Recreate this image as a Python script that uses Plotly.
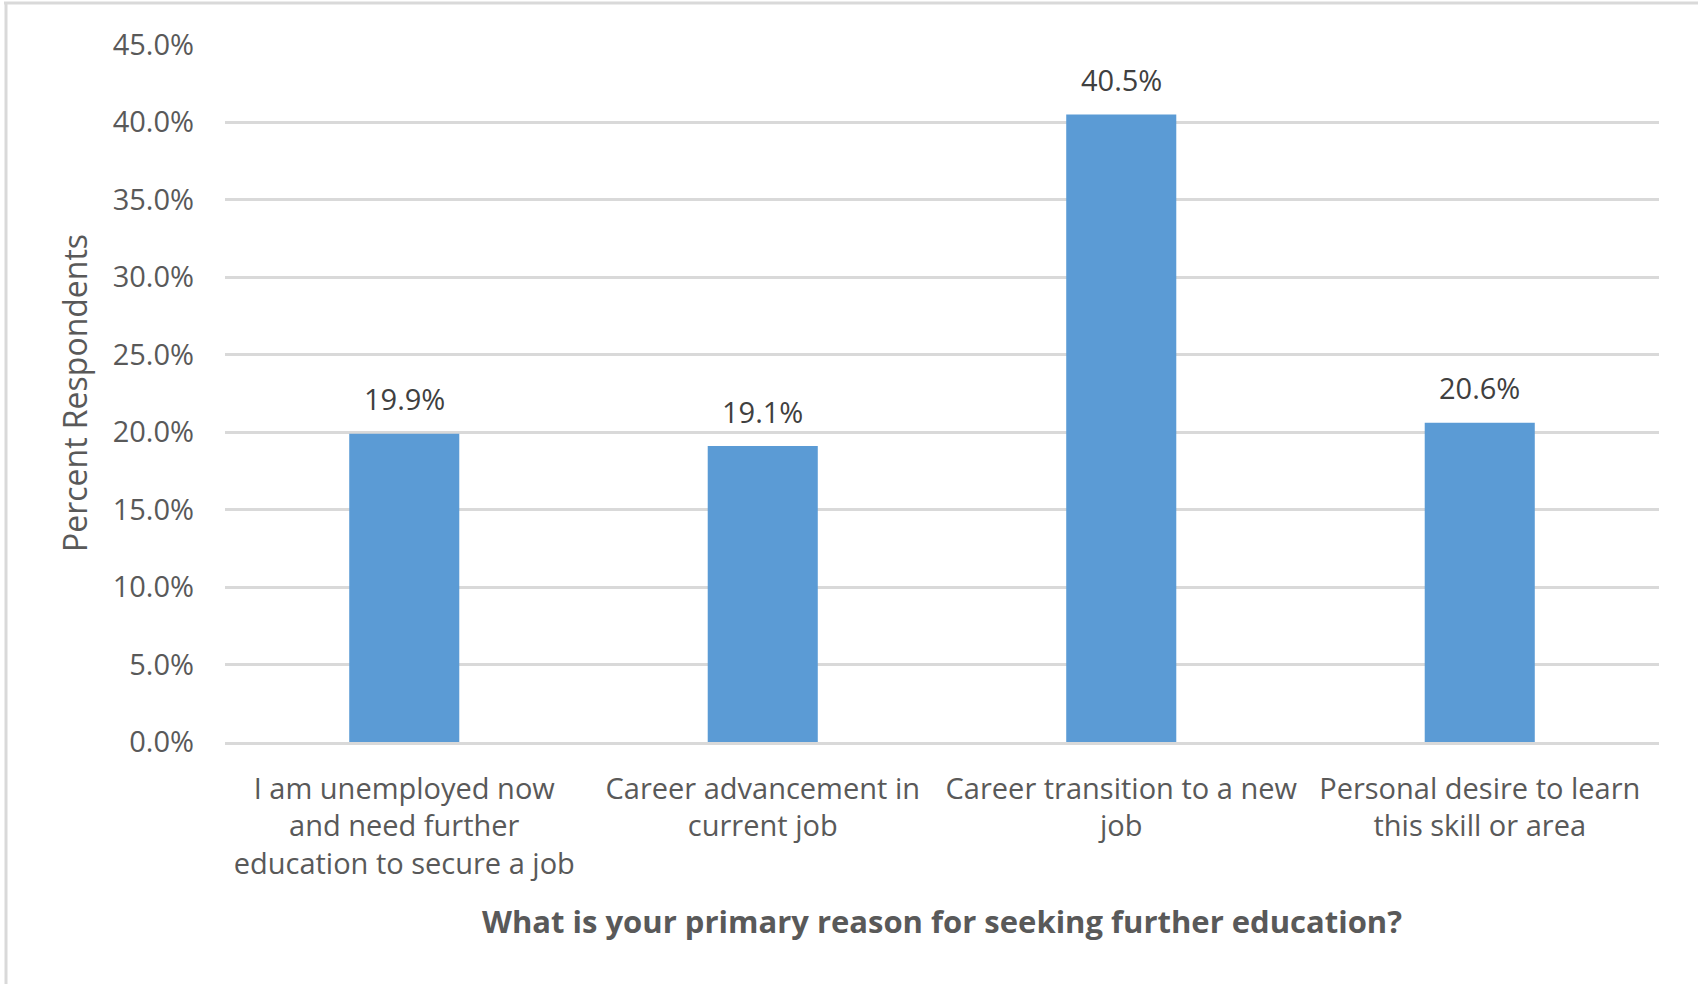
import plotly.graph_objects as go

categories = [
    "I am unemployed now<br>and need further<br>education to secure a job",
    "Career advancement in<br>current job",
    "Career transition to a new<br>job",
    "Personal desire to learn<br>this skill or area",
]
values = [0.199, 0.191, 0.405, 0.206]
y_ticks = [0.0, 0.05, 0.10, 0.15, 0.20, 0.25, 0.30, 0.35, 0.40, 0.45]

BAR = "#5B9BD5"
AXIS_TXT = "#595959"
LABEL_TXT = "#404040"
GRID = "#D9D9D9"
FONT = "Open Sans"

fig = go.Figure()
fig.add_trace(go.Bar(x=categories, y=values, marker=dict(color=BAR, line=dict(width=0)),
                     hoverinfo="skip"))

for c, v in zip(categories, values):
    fig.add_annotation(x=c, y=v, text=f"{v*100:.1f}%", showarrow=False,
                       yanchor="middle", yshift=35,
                       font=dict(family=FONT, size=29, color=LABEL_TXT))

fig.update_layout(
    width=1698, height=984,
    margin=dict(l=225, r=39, t=44, b=242),
    paper_bgcolor="white", plot_bgcolor="white",
    bargap=0.693,
    showlegend=False,
    font=dict(family=FONT, color=AXIS_TXT),
)
fig.update_yaxes(
    range=[0, 0.4505], tickvals=y_ticks, tickformat=".1%",
    showgrid=True, gridcolor=GRID, gridwidth=2.5,
    zeroline=False, showline=False, ticks="",
    tickfont=dict(family=FONT, size=29, color=AXIS_TXT),
    ticklabelstandoff=30,
    title=dict(text="Percent Respondents", standoff=15,
               font=dict(family=FONT, size=32, color=AXIS_TXT)),
)
fig.update_xaxes(
    showline=True, linecolor=GRID, linewidth=2.5, ticks="",
    tickfont=dict(family=FONT, size=29, color=AXIS_TXT),
    ticklabelstandoff=19,
    title=dict(text="<b>What is your primary reason for seeking further education?</b>",
               standoff=31,
               font=dict(family=FONT, size=31, color=AXIS_TXT)),
)

# chart frame (top and left edges visible in the reference)
fig.add_shape(type="line", xref="paper", yref="paper",
              x0=-221/1434, x1=1.1, y0=1 + 41/698, y1=1 + 41/698,
              line=dict(color=GRID, width=3))
fig.add_shape(type="line", xref="paper", yref="paper",
              x0=-219/1434, x1=-219/1434, y0=1 + 41/698, y1=-0.5,
              line=dict(color=GRID, width=3))

fig.write_html("out.html", config={"displayModeBar": False},
               post_script="document.body.style.margin='0';")
